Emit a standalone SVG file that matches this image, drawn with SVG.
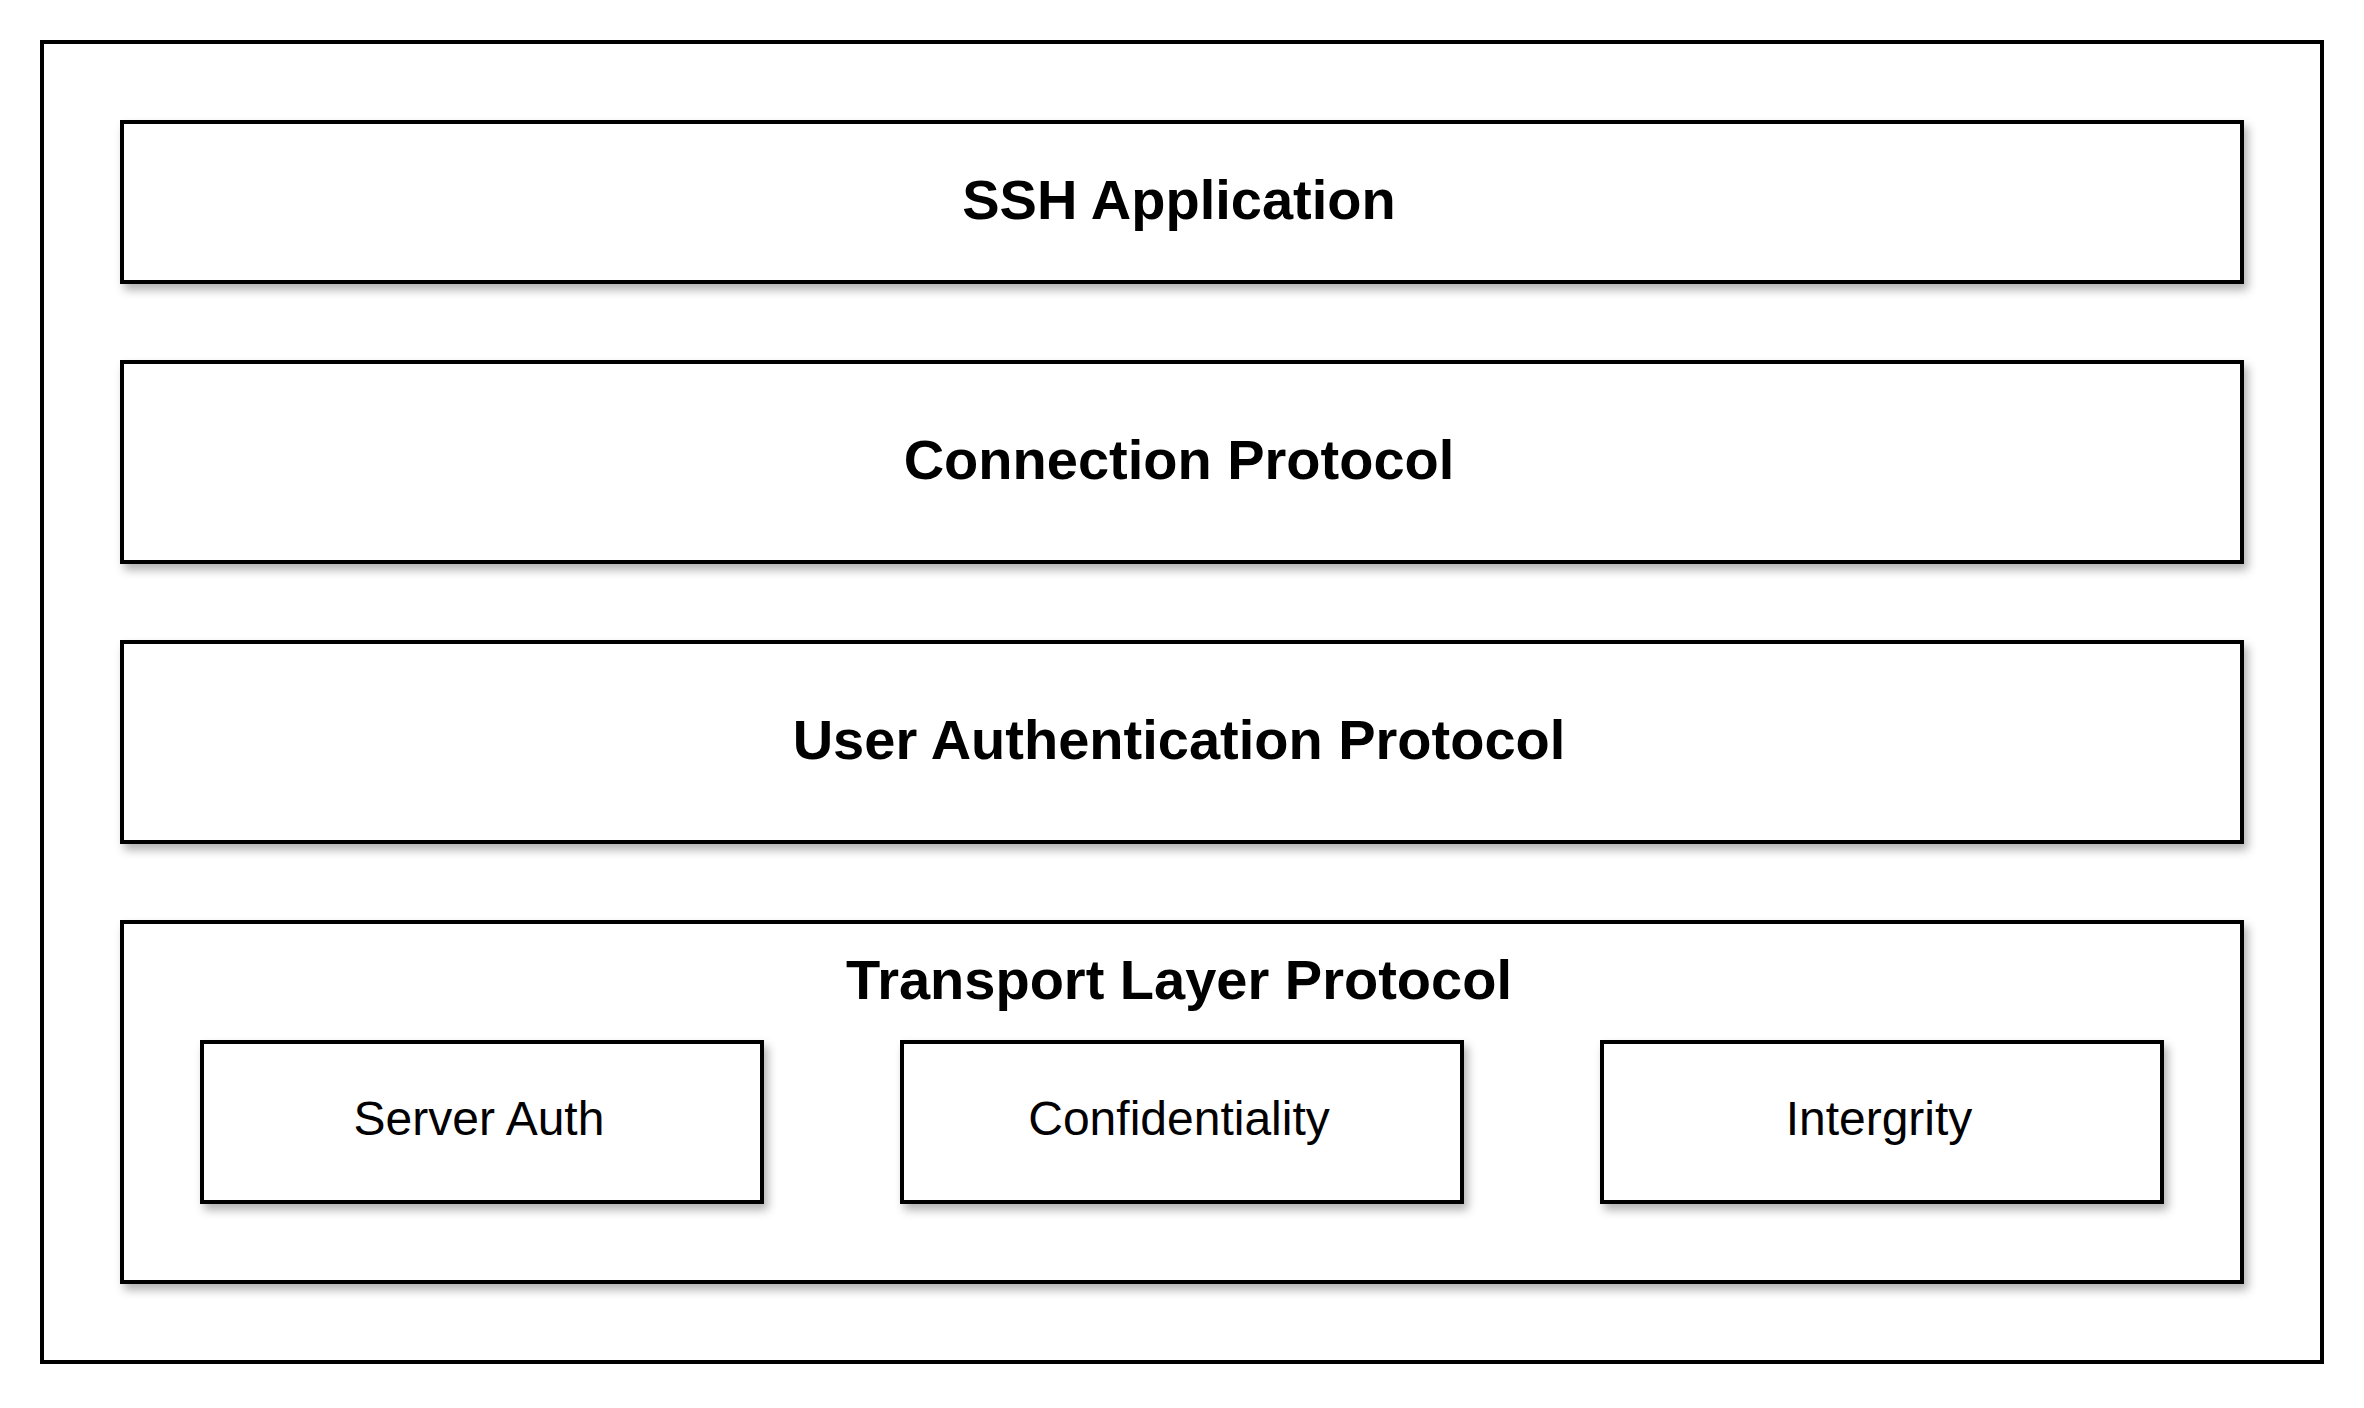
<svg xmlns="http://www.w3.org/2000/svg" width="2364" height="1408" viewBox="0 0 2364 1408">
<defs>
<filter id="sh" x="-10%" y="-20%" width="130%" height="150%">
<feDropShadow dx="4" dy="6" stdDeviation="5" flood-color="#000" flood-opacity="0.3"/>
</filter>
</defs>
<style>
.box{fill:#fff;stroke:#000;stroke-width:4}
.sbox{fill:#fff;stroke:#000;stroke-width:4;filter:url(#sh)}
.t{font-family:"Liberation Sans",Arial,sans-serif;font-weight:bold;font-size:56px;text-anchor:middle;fill:#000}
.r{font-family:"Liberation Sans",Arial,sans-serif;font-size:48px;text-anchor:middle;fill:#000}
</style>
<rect width="2364" height="1408" fill="#fff"/>
<g id="outer"><rect class="box" x="42" y="42" width="2280" height="1320"/></g>
<g id="ssh-application"><rect class="sbox" x="122" y="122" width="2120" height="160"/><text class="t" x="1179" y="219">SSH Application</text></g>
<g id="connection-protocol"><rect class="sbox" x="122" y="362" width="2120" height="200"/><text class="t" x="1179" y="479">Connection Protocol</text></g>
<g id="user-auth-protocol"><rect class="sbox" x="122" y="642" width="2120" height="200"/><text class="t" x="1179" y="759">User Authentication Protocol</text></g>
<g id="transport-layer-protocol"><rect class="sbox" x="122" y="922" width="2120" height="360"/><text class="t" x="1179" y="999">Transport Layer Protocol</text></g>
<g id="server-auth"><rect class="sbox" x="202" y="1042" width="560" height="160"/><text class="r" x="479" y="1135">Server Auth</text></g>
<g id="confidentiality"><rect class="sbox" x="902" y="1042" width="560" height="160"/><text class="r" x="1179" y="1135">Confidentiality</text></g>
<g id="intergrity"><rect class="sbox" x="1602" y="1042" width="560" height="160"/><text class="r" x="1879" y="1135">Intergrity</text></g>
<g id="connectors"></g>
</svg>
